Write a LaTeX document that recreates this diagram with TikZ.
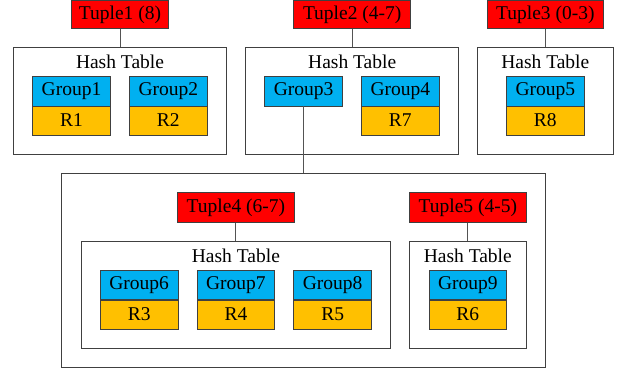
\documentclass[tikz,border=0pt]{standalone}
\usepackage{fontspec}
\newfontfamily\diagfont{LiberationSerif-Regular}[Extension=.ttf]
\definecolor{tred}{HTML}{FF0000}
\definecolor{gblue}{HTML}{00B0F0}
\definecolor{rgold}{HTML}{FFC000}
\definecolor{edge}{HTML}{404040}
\begin{document}
\begin{tikzpicture}[x=1pt,y=-1pt,
  every node/.style={font=\diagfont\fontsize{19.5}{22}\selectfont, inner sep=0pt, text=black},
  box/.style={draw=edge, line width=0.9pt, rectangle},
  tuplebox/.style={box, fill=tred, minimum height=28pt},
  htbox/.style={box, fill=white},
  groupbox/.style={box, fill=gblue, minimum width=77.7pt, minimum height=29.3pt},
  rbox/.style={box, fill=rgold, minimum width=77.7pt, minimum height=29pt},
  link/.style={draw=edge!90, line width=0.9pt}]
\useasboundingbox (0,0) rectangle (619,373);
% outer containers
\node[htbox, minimum width=484pt, minimum height=194.4pt] (big) at (303.7,270.5) {};
% top row
\node[tuplebox, minimum width=97.4pt] (t1) at (120,14.4) {Tuple1 (8)};
\node[tuplebox, minimum width=117pt] (t2) at (352.2,14.4) {Tuple2 (4-7)};
\node[tuplebox, minimum width=116pt] (t3) at (545.3,14.4) {Tuple3 (0-3)};
\node[htbox, minimum width=213.4pt, minimum height=106.6pt] (ht1) at (120,101) {};
\node[htbox, minimum width=213pt, minimum height=106.6pt] (ht2) at (352.2,101) {};
\node[htbox, minimum width=136pt, minimum height=106.6pt] (ht3) at (545.3,101) {};
\node (ht1t) at (120,62) {Hash Table};
\node (ht2t) at (352.2,62) {Hash Table};
\node (ht3t) at (545.3,62) {Hash Table};
\node[groupbox] (g1) at (71.5,91.35) {Group1};
\node[rbox] (r1) at (71.5,120.5) {R1};
\node[groupbox] (g2) at (168.3,91.35) {Group2};
\node[rbox] (r2) at (168.3,120.5) {R2};
\node[groupbox] (g3) at (303.7,91.35) {Group3};
\node[groupbox] (g4) at (400.3,91.35) {Group4};
\node[rbox] (r7) at (400.3,120.5) {R7};
\node[groupbox] (g5) at (545.3,91.35) {Group5};
\node[rbox] (r8) at (545.3,120.5) {R8};
% bottom row
\node[tuplebox, minimum width=116.6pt, minimum height=29.6pt] (t4) at (235.9,207.5) {Tuple4 (6-7)};
\node[tuplebox, minimum width=116.3pt, minimum height=29.6pt] (t5) at (467.8,207.5) {Tuple5 (4-5)};
\node[htbox, minimum width=309.7pt, minimum height=107.3pt] (ht4) at (235.9,294.7) {};
\node[htbox, minimum width=116.3pt, minimum height=107.3pt] (ht5) at (467.8,294.7) {};
\node (ht4t) at (235.9,256) {Hash Table};
\node (ht5t) at (467.8,256) {Hash Table};
\node[groupbox] (g6) at (139.2,285.15) {Group6};
\node[rbox] (r3) at (139.2,314.5) {R3};
\node[groupbox] (g7) at (235.9,285.15) {Group7};
\node[rbox] (r4) at (235.9,314.5) {R4};
\node[groupbox] (g8) at (332.7,285.15) {Group8};
\node[rbox] (r5) at (332.7,314.5) {R5};
\node[groupbox] (g9) at (467.8,285.15) {Group9};
\node[rbox] (r6) at (467.8,314.5) {R6};
% connectors
\draw[link] (t1.south) -- (ht1.north);
\draw[link] (t2.south) -- (ht2.north);
\draw[link] (t3.south) -- (ht3.north);
\draw[link] (g3.south) -- (big.north);
\draw[link] (t4.south) -- (ht4.north);
\draw[link] (t5.south) -- (ht5.north);
\end{tikzpicture}
\end{document}
